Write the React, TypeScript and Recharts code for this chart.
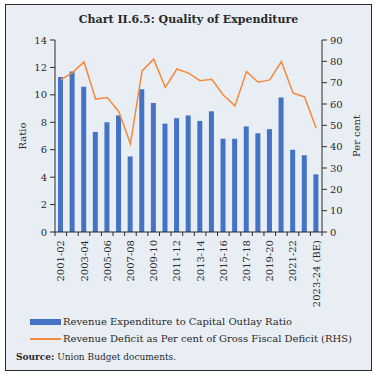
import { ComposedChart, Bar, Line, XAxis, YAxis } from 'recharts';

const years = [
  '2001-02', '2002-03', '2003-04', '2004-05', '2005-06', '2006-07', '2007-08', '2008-09',
  '2009-10', '2010-11', '2011-12', '2012-13', '2013-14', '2014-15', '2015-16', '2016-17',
  '2017-18', '2018-19', '2019-20', '2020-21', '2021-22', '2022-23', '2023-24 (BE)',
];
const expRatio = [
  11.3, 11.7, 10.6, 7.3, 8.0, 8.5, 5.5, 10.4, 9.4, 7.9, 8.3, 8.5,
  8.1, 8.8, 6.8, 6.8, 7.7, 7.2, 7.5, 9.8, 6.0, 5.6, 4.2,
];
const rdToGfd = [
  71.3, 74.7, 79.7, 62.3, 63.0, 56.4, 41.4, 75.5, 81.0, 67.8, 76.4, 74.5,
  70.9, 71.6, 64.2, 59.1, 75.2, 70.2, 71.3, 79.9, 65.2, 63.3, 48.6,
];
const leftTicks = [0, 2, 4, 6, 8, 10, 12, 14];
const rightTicks = [0, 10, 20, 30, 40, 50, 60, 70, 80, 90];

const data = years.map((y, i) => ({ year: y, ratio: expRatio[i], rd: rdToGfd[i] }));

const FONT = '"DejaVu Serif", serif';
const INK = '#2a2a2a';
const BLUE = '#4472C4';
const ORANGE = '#F58A3D';

const PLOT_LEFT = 55;
const PLOT_RIGHT = 322;

function XTick(props: any) {
  const { x, y, payload } = props;
  const index = props.index ?? payload.index;
  const band = (PLOT_RIGHT - PLOT_LEFT) / years.length;
  const isLast = index === years.length - 1;
  return (
    <g>
      <line x1={x - band / 2} x2={x - band / 2} y1={y} y2={y + 4} stroke={INK} strokeWidth={1} />
      {isLast && <line x1={x + band / 2} x2={x + band / 2} y1={y} y2={y + 4} stroke={INK} strokeWidth={1} />}
      {index % 2 === 0 && (
        <text
          x={x}
          y={y + 8}
          transform={`rotate(-90, ${x}, ${y + 8})`}
          textAnchor="end"
          dominantBaseline="central"
          fontFamily={FONT}
          fontSize={10}
          fill={INK}
        >
          {payload.value}
        </text>
      )}
    </g>
  );
}

export default function App() {
  return (
    <div style={{ position: 'absolute', left: 0, top: 0, width: 377, height: 376, background: '#fff', fontFamily: FONT }}>
      <div
        style={{
          position: 'absolute', left: 5, top: 4, width: 365, height: 365,
          border: `1.5px solid ${INK}`, background: '#E9EEF5',
        }}
      />
      <div
        style={{
          position: 'absolute', left: 5, top: 13, width: 367, textAlign: 'center',
          fontWeight: 'bold', fontSize: 11, color: INK,
        }}
      >
        Chart II.6.5: Quality of Expenditure
      </div>

      <div style={{ position: 'absolute', left: 0, top: 0 }}>
        <ComposedChart
          width={377}
          height={376}
          data={data}
          margin={{ top: 40, right: 0, bottom: 64, left: 0 }}
        >
          <XAxis
            dataKey="year"
            interval={0}
            tickLine={false}
            tickSize={0}
            tickMargin={0}
            height={80}
            axisLine={{ stroke: INK }}
            tick={<XTick />}
          />
          <YAxis
            yAxisId="left"
            domain={[0, 14]}
            ticks={leftTicks}
            width={55}
            tickSize={5}
            tickMargin={3}
            axisLine={{ stroke: INK }}
            tickLine={{ stroke: INK }}
            tick={{ fontFamily: FONT, fontSize: 10, fill: INK }}
          />
          <YAxis
            yAxisId="right"
            orientation="right"
            domain={[0, 90]}
            ticks={rightTicks}
            width={55}
            tickSize={5}
            tickMargin={3}
            axisLine={{ stroke: INK }}
            tickLine={{ stroke: INK }}
            tick={{ fontFamily: FONT, fontSize: 10, fill: INK }}
          />
          <Bar yAxisId="left" dataKey="ratio" fill={BLUE} barSize={5} isAnimationActive={false} />
          <Line
            yAxisId="right"
            dataKey="rd"
            stroke={ORANGE}
            strokeWidth={1.5}
            dot={false}
            type="linear"
            isAnimationActive={false}
          />
        </ComposedChart>
      </div>

      <div
        style={{
          position: 'absolute', left: 22, top: 136, transform: 'translate(-50%, -50%) rotate(-90deg)',
          fontSize: 10, color: INK, whiteSpace: 'nowrap',
        }}
      >
        Ratio
      </div>
      <div
        style={{
          position: 'absolute', left: 356, top: 136, transform: 'translate(-50%, -50%) rotate(-90deg)',
          fontSize: 10, color: INK, whiteSpace: 'nowrap',
        }}
      >
        Per cent
      </div>

      <div style={{ position: 'absolute', left: 30, top: 316, fontSize: 10, color: INK, lineHeight: '12px' }}>
        <div style={{ display: 'flex', alignItems: 'center', height: 12 }}>
          <span style={{ display: 'inline-block', width: 31, height: 6, background: BLUE, marginRight: 2 }} />
          <span>Revenue Expenditure to Capital Outlay Ratio</span>
        </div>
        <div style={{ display: 'flex', alignItems: 'center', height: 12, marginTop: 5 }}>
          <span style={{ display: 'inline-block', width: 31, height: 2, background: ORANGE, marginRight: 2 }} />
          <span>Revenue Deficit as Per cent of Gross Fiscal Deficit (RHS)</span>
        </div>
      </div>
      <div style={{ position: 'absolute', left: 16, top: 351, fontSize: 9, color: INK, lineHeight: '12px' }}>
        <b>Source:</b> Union Budget documents.
      </div>
    </div>
  );
}
